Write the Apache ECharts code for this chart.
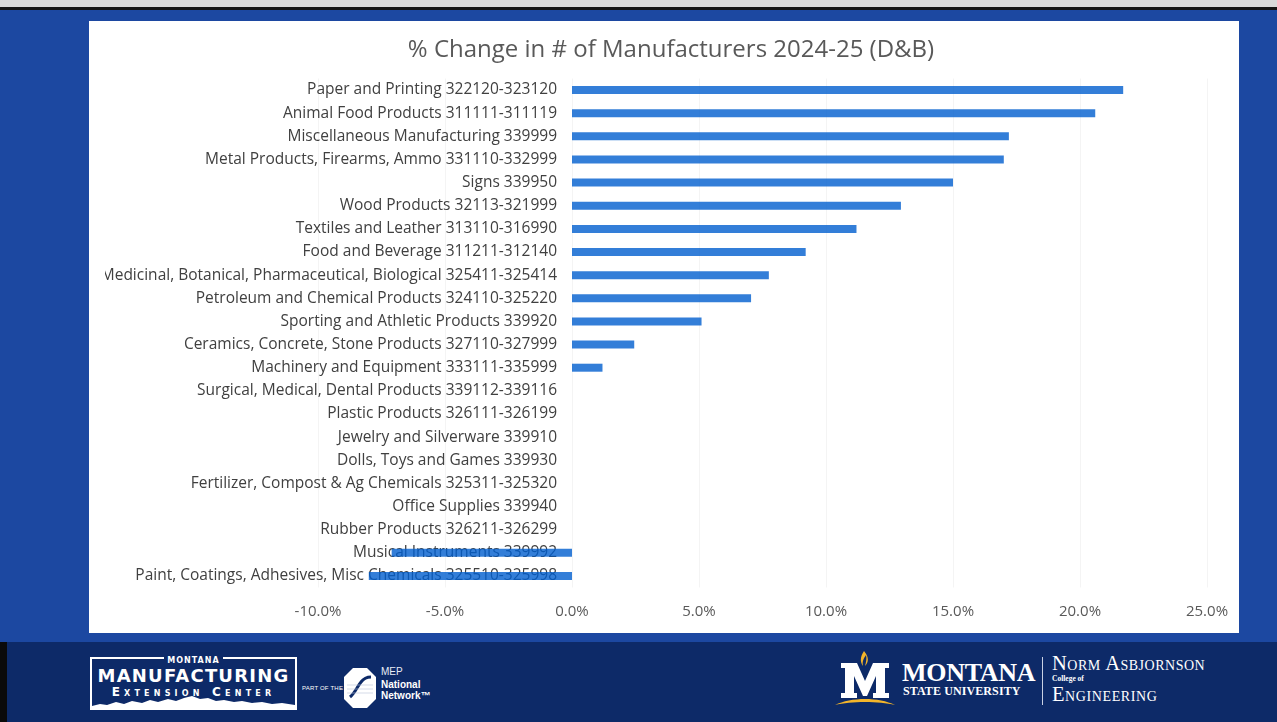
<!DOCTYPE html>
<html><head><meta charset="utf-8">
<script src="https://cdn.jsdelivr.net/npm/echarts@6/dist/echarts.min.js"></script>
<style>
html,body{margin:0;padding:0;width:1277px;height:722px;overflow:hidden;background:#1c48a1;font-family:"DejaVu Sans",sans-serif;}
.abs{position:absolute}
#top1{left:0;top:0;width:1277px;height:7px;background:#d9d9d9}
#top2{left:0;top:7px;width:1277px;height:3px;background:#141414}
#panel{left:89px;top:21px;width:1150px;height:612px;background:#fff}
#foot{left:0;top:642px;width:1277px;height:80px;background:#0d2a68}
#footl{left:0;top:642px;width:7px;height:80px;background:#0a0a0a}
#chart{left:0;top:0;width:1277px;height:722px}
#mmec{left:90px;top:657px;width:207px;height:53px;border:2px solid #fff;box-sizing:border-box;color:#fff;text-align:center}
#mmec .mt{position:absolute;left:0;right:0;top:-6px;text-align:center;line-height:10px}
#mmec .mt span{background:#0d2a68;padding:0 3px;font:bold 8px "DejaVu Sans";letter-spacing:1px}
#mmec .mf{position:absolute;left:0;right:0;top:7px;font:bold 18px "DejaVu Sans";letter-spacing:1.2px;line-height:20px}
#mmec .ec{position:absolute;left:0;right:0;top:27px;font:bold 12px "DejaVu Sans";font-variant:small-caps;letter-spacing:4.2px;line-height:13px}
#mmec svg{position:absolute;left:0;bottom:0}
#part{left:302px;top:685px;color:#fff;font:6px "Liberation Sans";letter-spacing:0.2px}
#mepicon{left:343px;top:667px}
#mep1{left:381px;top:666px;color:#e8ecf5;font:10px "Liberation Sans"}
#mep2{left:381px;top:679px;color:#fff;font:bold 10px "Liberation Sans"}
#mep3{left:381px;top:690px;color:#fff;font:bold 10px "Liberation Sans"}
#msuM{left:833px;top:649px}
#msu1{left:902px;top:660px;color:#fff;font:bold 26px "Liberation Serif";line-height:26px;letter-spacing:-0.3px}
#msu2{left:903px;top:685px;color:#fff;font:bold 12px "Liberation Serif";line-height:13px;letter-spacing:0.1px}
#div{left:1042px;top:657px;width:1px;height:48px;background:#c9d1e4}
#norm{left:1052px;top:653px;color:#fff;font:20.5px "Liberation Serif";font-variant:small-caps;line-height:21px;letter-spacing:0.5px}
#col{left:1052px;top:674px;color:#fff;font:bold 7.5px "Liberation Serif";line-height:9px}
#eng{left:1052px;top:684px;color:#fff;font:20.5px "Liberation Serif";font-variant:small-caps;line-height:21px;letter-spacing:0.6px}
</style>
</head>
<body>
<div id="top1" class="abs"></div>
<div id="top2" class="abs"></div>
<div id="panel" class="abs"></div>
<div id="foot" class="abs"></div>
<div id="footl" class="abs"></div>

<div id="mmec" class="abs">
  <div class="mt"><span>MONTANA</span></div>
  <div class="mf">MANUFACTURING</div>
  <div class="ec">Extension Center</div>
  <svg width="203" height="12" viewBox="0 0 203 12"><polygon fill="#fff" points="0,10 8,8 15,9 24,6 32,8 40,5 50,7 58,4 66,6 76,3 84,5 92,2 100,0 108,3 116,2 124,5 132,4 142,6 150,5 160,7 170,6 180,8 190,7 203,9 203,12 0,12"/></svg>
</div>
<div id="part" class="abs">PART OF THE</div>
<svg id="mepicon" class="abs" width="34" height="42" viewBox="0 0 34 42">
  <polygon fill="#fff" points="10,1 24,1 33,10 33,32 24,41 10,41 1,32 1,10"/>
  <path d="M7,30 C12,26 14,20 18,15 C21,11 25,10 28,10" stroke="#0d2a68" stroke-width="3" fill="none"/>
  <path d="M4,22 L30,22" stroke="#b9c3d8" stroke-width="0.6"/>
  <path d="M4,26 L30,26" stroke="#b9c3d8" stroke-width="0.6"/>
  <path d="M4,18 L30,18" stroke="#b9c3d8" stroke-width="0.6"/>
</svg>
<div id="mep1" class="abs">MEP</div>
<div id="mep2" class="abs">National</div>
<div id="mep3" class="abs">Network&#8482;</div>

<svg id="msuM" class="abs" width="64" height="60" viewBox="0 0 64 60">
  <path d="M31,2 C27,8 27,13 30,17 C29,12 31,9 33,6 C34,10 33,13 32,17 C36,13 36,8 31,2 Z" fill="#f3b52a"/>
  <path d="M8,14 L24,14 L32,32 L40,14 L56,14 L56,19 L52,19 L52,44 L56,44 L56,49 L40,49 L40,44 L43,44 L43,27 L34,47 L30,47 L21,27 L21,44 L24,44 L24,49 L8,49 L8,44 L12,44 L12,19 L8,19 Z" fill="#fff"/>
  <path d="M2,56 C18,48 46,48 62,56 C46,52 18,52 2,56 Z" fill="#f3b52a"/>
</svg>
<div id="msu1" class="abs">MONTANA</div>
<div id="msu2" class="abs">STATE UNIVERSITY</div>
<div id="div" class="abs"></div>
<div id="norm" class="abs">Norm Asbjornson</div>
<div id="col" class="abs">College of</div>
<div id="eng" class="abs">Engineering</div>

<div id="chart" class="abs"></div>
<script>
const titleText = '% Change in # of Manufacturers 2024-25 (D&B)';
const categories = [
  'Paper and Printing 322120-323120',
  'Animal Food Products 311111-311119',
  'Miscellaneous Manufacturing 339999',
  'Metal Products, Firearms, Ammo 331110-332999',
  'Signs 339950',
  'Wood Products 32113-321999',
  'Textiles and Leather 313110-316990',
  'Food and Beverage 311211-312140',
  'Medicinal, Botanical, Pharmaceutical, Biological 325411-325414',
  'Petroleum and Chemical Products 324110-325220',
  'Sporting and Athletic Products 339920',
  'Ceramics, Concrete, Stone Products 327110-327999',
  'Machinery and Equipment 333111-335999',
  'Surgical, Medical, Dental Products 339112-339116',
  'Plastic Products 326111-326199',
  'Jewelry and Silverware 339910',
  'Dolls, Toys and Games 339930',
  'Fertilizer, Compost & Ag Chemicals 325311-325320',
  'Office Supplies 339940',
  'Rubber Products 326211-326299',
  'Musical Instruments 339992',
  'Paint, Coatings, Adhesives, Misc Chemicals 325510-325998'
];
const pctChange = [21.7, 20.6, 17.2, 17.0, 15.0, 12.95, 11.2, 9.2, 7.75, 7.05, 5.1, 2.45, 1.2, 0, 0, 0, 0, 0, 0, 0, -7.1, -8.0];
const xTicks = [-10, -5, 0, 5, 10, 15, 20, 25];

const gridLeft = 318, gridRight = 70;
const plotWidth = 1277 - gridLeft - gridRight;
const xMin = xTicks[0], xMax = xTicks[xTicks.length - 1];
// category axis sits at the value 0 position (as in the Excel original)
const zeroOffset = -plotWidth * (0 - xMin) / (xMax - xMin);

const chart = echarts.init(document.getElementById('chart'), null, {renderer: 'canvas'});
chart.setOption({
  backgroundColor: 'transparent',
  animation: false,
  title: {
    text: titleText,
    left: 666, top: 33, textAlign: 'center',
    textStyle: {fontFamily: 'Open Sans', fontWeight: 'normal', fontSize: 24, color: '#595959'}
  },
  grid: {left: gridLeft, right: gridRight, top: 78.5, bottom: 134.5, containLabel: false, outerBoundsMode: 'none'},
  xAxis: {
    type: 'value',
    min: xMin, max: xMax, interval: xTicks[1] - xTicks[0],
    axisLine: {show: false}, axisTick: {show: false},
    splitLine: {show: true, lineStyle: {color: '#f4f4f4', width: 1}},
    axisLabel: {
      margin: 17, color: '#595959', fontFamily: 'Open Sans', fontSize: 15,
      formatter: v => v.toFixed(1) + '%'
    }
  },
  yAxis: {
    type: 'category', data: categories, inverse: true,
    offset: zeroOffset,
    axisLine: {show: false},
    axisTick: {show: false},
    splitLine: {show: false},
    axisLabel: {interval: 0, margin: 15, color: '#404040', fontFamily: 'Open Sans', fontSize: 15.5}
  },
  series: [{
    type: 'bar', data: pctChange, barWidth: 8,
    itemStyle: {color: 'rgba(0,94,206,0.8)'}
  }],
  graphic: [{
    type: 'rect', z: 100,
    shape: {x: 89, y: 262, width: 16, height: 26},
    style: {fill: '#ffffff'}
  }]
});
</script>
</body></html>
